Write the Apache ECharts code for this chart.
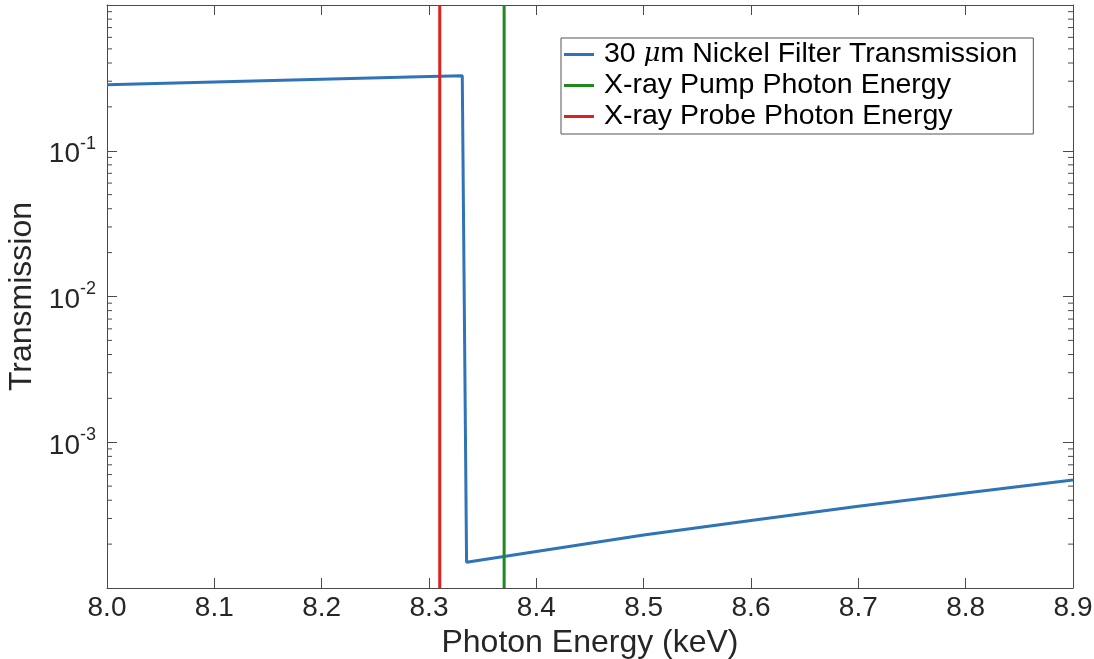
<!DOCTYPE html>
<html>
<head>
<meta charset="utf-8">
<script src="https://cdn.jsdelivr.net/npm/echarts@6/dist/echarts.min.js"></script>
<style>
  html, body { margin: 0; padding: 0; background: #fff; }
  #chart { width: 1094px; height: 659px; }
</style>
</head>
<body>
<div id="chart"></div>
<script>
// ---- data ----
const energyKeV    = [8.0, 8.1, 8.2, 8.3, 8.331, 8.335, 8.4, 8.5, 8.6, 8.7, 8.8, 8.9];
const transmission = [0.284, 0.296, 0.309, 0.323, 0.327, 1.50e-4, 1.78e-4, 2.31e-4, 2.90e-4, 3.64e-4, 4.48e-4, 5.51e-4];
const pumpEnergy  = 8.37;
const probeEnergy = 8.31;
const xMin = 8.0, xMax = 8.9, xStep = 0.1;
const yMin = 1e-4, yMax = 1;
const decadeExps = [-4, -3, -2, -1];
const minorMultipliers = [2, 3, 4, 5, 6, 7, 8, 9];
const seriesNames = ['30 μm Nickel Filter Transmission', 'X-ray Pump Photon Energy', 'X-ray Probe Photon Energy'];

const minorTicks = [];
decadeExps.forEach(e => minorMultipliers.forEach(m => minorTicks.push(m * Math.pow(10, e))));

const FONT = '"Liberation Sans", Arial, Helvetica, sans-serif';
const AX = '#4a4a4a';
const TXT = '#262626';

const chart = echarts.init(document.getElementById('chart'));
const option = {
  animation: false,
  backgroundColor: '#fff',
  textStyle: { fontFamily: FONT },
  grid: { left: 107, right: 21, top: 5, bottom: 71, containLabel: false, outerBoundsMode: 'none' },
  legend: {
    orient: 'vertical',
    left: 561, top: 38,
    data: seriesNames,
    icon: 'rect',
    itemWidth: 30, itemHeight: 3, itemGap: 2,
    padding: [2, 16, 3, 3],
    borderColor: '#555', borderWidth: 1,
    backgroundColor: '#fff',
    textStyle: {
      fontFamily: FONT, fontSize: 28.5, color: '#000', lineHeight: 28, padding: [0, 0, 0, 5],
      rich: { i: { fontFamily: '"DejaVu Serif", "Liberation Serif", serif', fontStyle: 'italic', fontSize: 26, color: '#000' } }
    },
    formatter: function (name) {
      if (name.indexOf('μ') >= 0) return name.replace('μ', '{i|μ}');
      return name;
    }
  },
  xAxis: [{
    type: 'value', min: xMin, max: xMax, interval: xStep,
    name: 'Photon Energy (keV)', nameLocation: 'middle', nameGap: 30,
    nameTextStyle: { fontSize: 32, color: TXT, fontFamily: FONT },
    axisLine: { show: true, onZero: false, lineStyle: { color: AX, width: 1 } },
    axisTick: { show: true, inside: true, length: 10, lineStyle: { color: AX } },
    axisLabel: { fontSize: 28, color: TXT, margin: 6, formatter: v => v.toFixed(1) },
    splitLine: { show: false }
  }, {
    type: 'value', min: xMin, max: xMax, interval: xStep, position: 'top',
    axisLine: { show: true, onZero: false, lineStyle: { color: AX, width: 1 } },
    axisTick: { show: true, inside: true, length: 10, lineStyle: { color: AX } },
    axisLabel: { show: false }, splitLine: { show: false }
  }],
  yAxis: [{
    type: 'log', logBase: 10, min: yMin, max: yMax,
    name: 'Transmission', nameLocation: 'middle', nameGap: 62,
    nameTextStyle: { fontSize: 32, color: TXT, fontFamily: FONT },
    axisLine: { show: true, onZero: false, lineStyle: { color: AX, width: 1 } },
    axisTick: { show: true, inside: true, length: 10, lineStyle: { color: AX } },
    axisLabel: {
      margin: 11, color: TXT,
      formatter: function (v) {
        const e = Math.round(Math.log10(v));
        if (e === 0 || e === -4) return '';
        return '{b|10}{s|' + e + '}';
      },
      rich: {
        b: { fontSize: 28, color: TXT, fontFamily: FONT, padding: [8, 0, 0, 0] },
        s: { fontSize: 18, color: TXT, fontFamily: FONT, padding: [0, 0, 14, 0] }
      }
    },
    splitLine: { show: false }
  }, {
    type: 'log', logBase: 10, min: yMin, max: yMax, position: 'right',
    axisLine: { show: true, onZero: false, lineStyle: { color: AX, width: 1 } },
    axisTick: { show: true, inside: true, length: 10, lineStyle: { color: AX } },
    axisLabel: { show: false }, splitLine: { show: false }
  }],
  series: [
    {
      name: 'minorTicks', type: 'custom', silent: true, clip: false,
      xAxisIndex: 0, yAxisIndex: 0,
      data: minorTicks.map(v => [xMin, v]),
      encode: { x: 0, y: 1 },
      renderItem: function (params, api) {
        const v = api.value(1);
        const pL = api.coord([xMin, v]);
        const pR = api.coord([xMax, v]);
        return {
          type: 'group',
          children: [
            { type: 'line', shape: { x1: pL[0], y1: pL[1], x2: pL[0] + 5, y2: pL[1] }, style: { stroke: AX, lineWidth: 1 } },
            { type: 'line', shape: { x1: pR[0], y1: pR[1], x2: pR[0] - 5, y2: pR[1] }, style: { stroke: AX, lineWidth: 1 } }
          ]
        };
      }
    },
    {
      name: seriesNames[0], type: 'line', symbol: 'none',
      data: energyKeV.map((e, i) => [e, transmission[i]]),
      lineStyle: { color: '#2f74b6', width: 3 }, itemStyle: { color: '#2f74b6' }
    },
    {
      name: seriesNames[1], type: 'line', symbol: 'none',
      data: [[pumpEnergy, yMin], [pumpEnergy, yMax]],
      lineStyle: { color: '#1e8a1e', width: 3 }, itemStyle: { color: '#1e8a1e' }
    },
    {
      name: seriesNames[2], type: 'line', symbol: 'none',
      data: [[probeEnergy, yMin], [probeEnergy, yMax]],
      lineStyle: { color: '#e0221f', width: 3 }, itemStyle: { color: '#e0221f' }
    }
  ]
};
chart.setOption(option);
</script>
</body>
</html>
